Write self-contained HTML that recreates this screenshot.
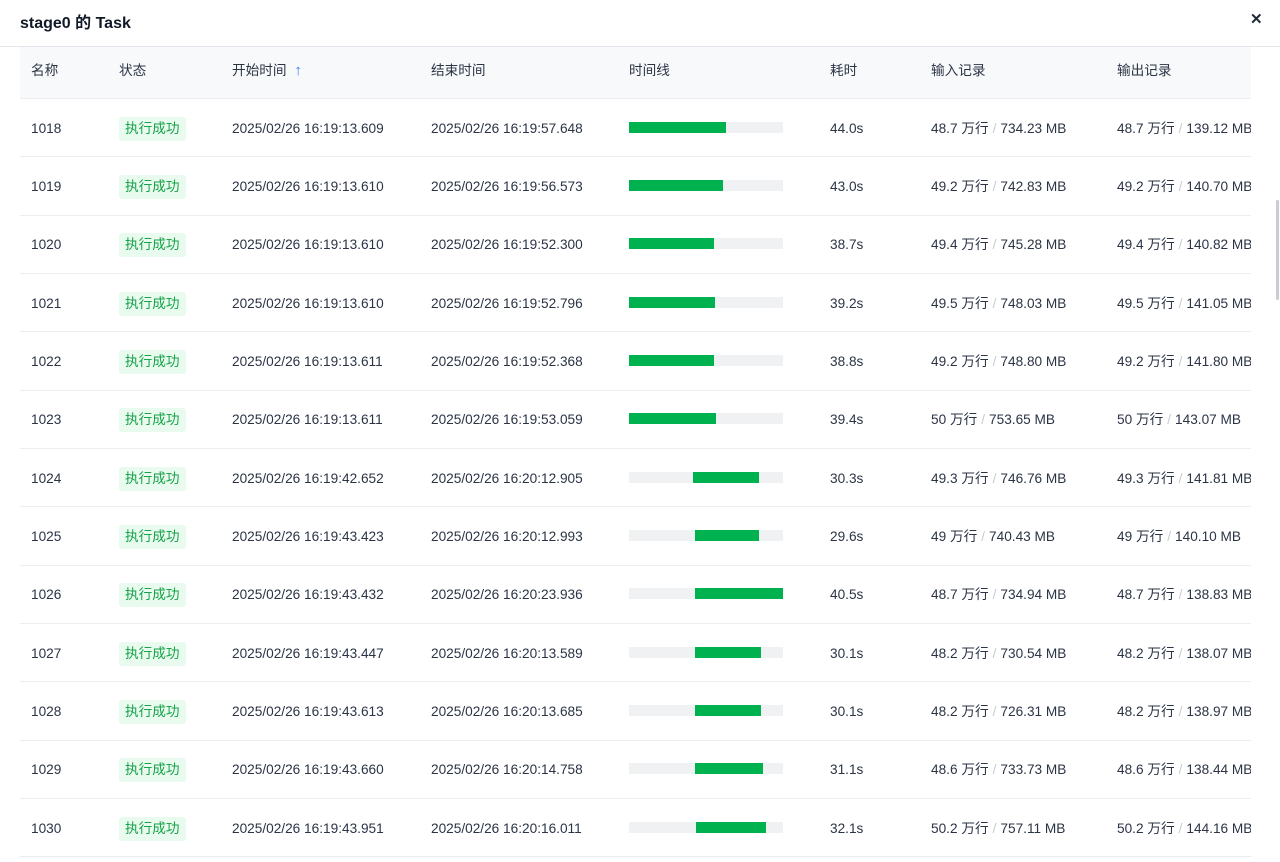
<!DOCTYPE html>
<html><head><meta charset="utf-8"><style>
*{margin:0;padding:0;box-sizing:border-box}
body{width:1280px;height:862px;overflow:hidden;background:#fff;font-family:"Liberation Sans","Noto Sans CJK SC",sans-serif;color:#2b3445;font-size:13.65px;position:relative}
.title{position:absolute;left:20px;top:9px;font-size:16px;font-weight:bold;color:#111827}
.close{position:absolute;left:1250px;top:10px;font-size:15px;font-weight:bold;color:#1f2937}
.hline{position:absolute;left:0;width:1280px;top:46px;height:1px;background:#e3e6eb}
.table{position:absolute;left:20px;top:47px;width:1231px;height:812px;overflow:hidden}
.head{position:absolute;left:0;top:0;width:1231px;height:52px;background:#f8f9fa;border-bottom:1px solid #eceef1}
.head .c{top:calc(46% + 1px)}
.row{position:absolute;left:0;width:1231px;height:58.33px;border-bottom:1px solid #eceef1}
.c{position:absolute;white-space:nowrap;top:calc(50% + 1px);transform:translateY(-50%);line-height:20px}
.badge{background:#e9faee;color:#16a34a;padding:2px 6px;border-radius:3px;line-height:20px}
.track{position:absolute;left:609px;width:154px;height:11px;top:50%;margin-top:-6px;background:#f0f1f3}
.bar{position:absolute;top:0;height:11px;background:#00b14f}
.sep{color:#c7cbd1;margin:0 4px}
.sb{position:absolute;left:1276px;top:200px;width:3px;height:100px;background:#c9ccd1;border-radius:2px}
</style></head><body>
<div class="title">stage0 的 Task</div>
<div class="close">✕</div>
<div class="hline"></div>
<div class="sb"></div>
<div class="table">
<div class="head">
<span class="c" style="left:11px">名称</span>
<span class="c" style="left:99px">状态</span>
<span class="c" style="left:212px">开始时间 <span style="color:#2f7ef5;margin-left:4px;font-size:15px">↑</span></span>
<span class="c" style="left:411px">结束时间</span>
<span class="c" style="left:609px">时间线</span>
<span class="c" style="left:810px">耗时</span>
<span class="c" style="left:911px">输入记录</span>
<span class="c" style="left:1097px">输出记录</span>
</div>
<div id="rows"></div>
</div>
<script>
var d=[
["1018","13.609","19:57.648",629,726,"44.0s","48.7","734.23","48.7","139.12"],
["1019","13.610","19:56.573",629,723,"43.0s","49.2","742.83","49.2","140.70"],
["1020","13.610","19:52.300",629,714,"38.7s","49.4","745.28","49.4","140.82"],
["1021","13.610","19:52.796",629,715,"39.2s","49.5","748.03","49.5","141.05"],
["1022","13.611","19:52.368",629,714,"38.8s","49.2","748.80","49.2","141.80"],
["1023","13.611","19:53.059",629,716,"39.4s","50","753.65","50","143.07"],
["1024","42.652","20:12.905",693,759,"30.3s","49.3","746.76","49.3","141.81"],
["1025","43.423","20:12.993",695,759,"29.6s","49","740.43","49","140.10"],
["1026","43.432","20:23.936",695,783,"40.5s","48.7","734.94","48.7","138.83"],
["1027","43.447","20:13.589",695,761,"30.1s","48.2","730.54","48.2","138.07"],
["1028","43.613","20:13.685",695,761,"30.1s","48.2","726.31","48.2","138.97"],
["1029","43.660","20:14.758",695,763,"31.1s","48.6","733.73","48.6","138.44"],
["1030","43.951","20:16.011",696,766,"32.1s","50.2","757.11","50.2","144.16"]];
var h="";
d.forEach(function(r,i){
h+='<div class="row" style="top:'+(52+i*58.33)+'px">'+
'<span class="c" style="left:11px">'+r[0]+'</span>'+
'<span class="c badge" style="left:99px">执行成功</span>'+
'<span class="c" style="left:212px">2025/02/26 16:19:'+r[1]+'</span>'+
'<span class="c" style="left:411px">2025/02/26 16:'+r[2]+'</span>'+
'<div class="track"><div class="bar" style="left:'+(r[3]-629)+'px;width:'+(r[4]-r[3])+'px"></div></div>'+
'<span class="c" style="left:810px">'+r[5]+'</span>'+
'<span class="c" style="left:911px">'+r[6]+' 万行<span class="sep">/</span>'+r[7]+' MB</span>'+
'<span class="c" style="left:1097px">'+r[8]+' 万行<span class="sep">/</span>'+r[9]+' MB</span>'+
'</div>';});
document.getElementById("rows").innerHTML=h;
</script>
</body></html>
